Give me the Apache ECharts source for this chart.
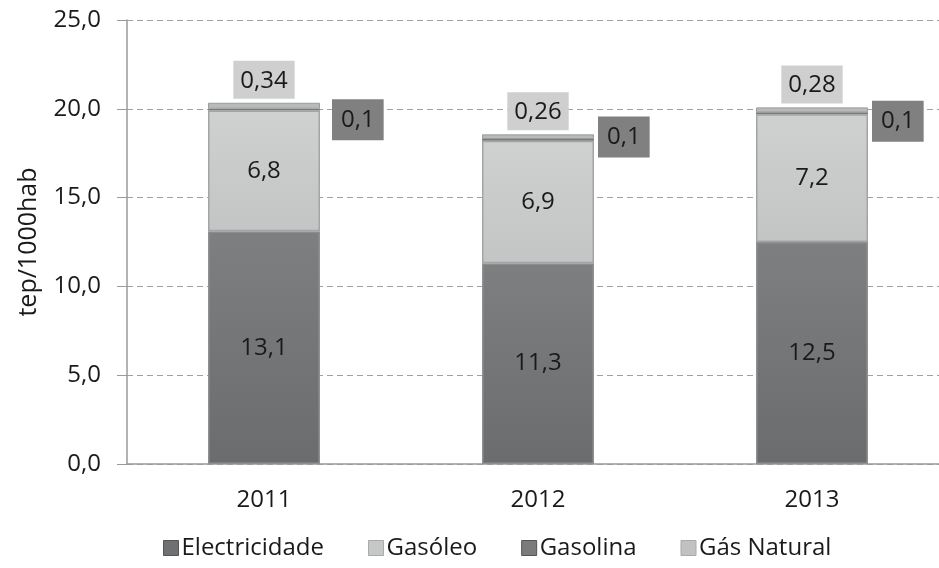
<!DOCTYPE html>
<html>
<head>
<meta charset="utf-8">
<script src="https://cdn.jsdelivr.net/npm/echarts@6/dist/echarts.min.js"></script>
<style>
  html, body { margin: 0; padding: 0; background: #fff; }
  #chart { width: 939px; height: 568px; }
</style>
</head>
<body>
<div id="chart"></div>
<script>
// anos
const years = ['2011', '2012', '2013']
// tep/1000hab por fonte
const electricidade = [13.1, 11.3, 12.5]
const gasoleo = [6.8, 6.9, 7.2]
const gasolina = [0.1, 0.1, 0.1]
const gasNatural = [0.34, 0.26, 0.28]
const yTicks = [0, 5, 10, 15, 20, 25]

// os rótulos da gasolina foram colocados à mão no original
const gasolinaLabelOffset = [[8, 10], [0, -3], [0, 8]]

const FONT = '"Open Sans", "Noto Sans", sans-serif'
const comma = (v, d) => v.toFixed(d).replace('.', ',')

const grad = (top, bottom) => new echarts.graphic.LinearGradient(0, 0, 0, 1, [
  { offset: 0, color: top },
  { offset: 1, color: bottom }
])

const chart = echarts.init(document.getElementById('chart'))

const option = {
  animation: false,
  grid: { left: 127, width: 822, top: 20, bottom: 104, outerBoundsMode: 'none', containLabel: false },
  legend: {
    bottom: 3,
    left: 158,
    itemWidth: 15,
    itemHeight: 15,
    itemGap: 44,
    textStyle: { fontFamily: FONT, fontSize: 24, color: '#1a1a1a', padding: [0, 0, 0, -2] },
    data: [
      { name: 'Electricidade', icon: 'rect', itemStyle: { color: '#6e7071', borderColor: '#555', borderWidth: 1 } },
      { name: 'Gasóleo', icon: 'rect', itemStyle: { color: '#c6c7c7', borderColor: '#aaa', borderWidth: 1 } },
      { name: 'Gasolina', icon: 'rect', itemStyle: { color: '#7a7c7c', borderColor: '#555', borderWidth: 1 } },
      { name: 'Gás Natural', icon: 'rect', itemStyle: { color: '#c0c1c1', borderColor: '#aaa', borderWidth: 1 } }
    ]
  },
  xAxis: {
    type: 'category',
    data: years,
    axisLine: { lineStyle: { color: '#9a9a9a', width: 1.5 } },
    axisTick: { show: false },
    axisLabel: { fontFamily: FONT, fontSize: 24, color: '#1a1a1a', margin: 24 }
  },
  yAxis: {
    type: 'value',
    min: yTicks[0],
    max: yTicks[yTicks.length - 1],
    interval: 5,
    name: 'tep/1000hab',
    nameLocation: 'middle',
    nameGap: 86,
    nameTextStyle: { fontFamily: FONT, fontSize: 25, color: '#1a1a1a' },
    axisLine: { show: true, lineStyle: { color: '#9a9a9a', width: 1.5 } },
    axisTick: { show: true, inside: false, length: 10, lineStyle: { color: '#9a9a9a' } },
    axisLabel: {
      fontFamily: FONT, fontSize: 24, color: '#1a1a1a', margin: 26,
      formatter: v => comma(v, 1)
    },
    splitLine: { lineStyle: { color: '#a0a0a0', type: [6, 4], width: 1 } }
  },
  series: [
    {
      name: 'Electricidade',
      type: 'bar',
      stack: 'total',
      barWidth: 112,
      data: electricidade,
      itemStyle: { color: grad('#7d7f80', '#6a6c6d'), borderColor: '#8f9191', borderWidth: 1.5 },
      label: {
        show: true, position: 'inside',
        fontFamily: FONT, fontSize: 24, color: '#1a1a1a',
        formatter: p => comma(p.value, 1)
      }
    },
    {
      name: 'Gasóleo',
      type: 'bar',
      stack: 'total',
      data: gasoleo,
      itemStyle: { color: grad('#cfd0d0', '#c3c4c4'), borderColor: '#a3a5a5', borderWidth: 1.5 },
      label: {
        show: true, position: 'inside',
        fontFamily: FONT, fontSize: 24, color: '#1a1a1a',
        formatter: p => comma(p.value, 1)
      }
    },
    {
      name: 'Gasolina',
      type: 'bar',
      stack: 'total',
      data: gasolina.map((v, i) => ({ value: v, label: { offset: gasolinaLabelOffset[i] } })),
      itemStyle: { color: '#7a7c7c' },
      label: {
        show: true, position: 'right', distance: 4,
        fontFamily: FONT, fontSize: 24, color: '#1a1a1a',
        backgroundColor: '#808080',
        padding: [9, 9, 8, 9],
        formatter: p => comma(p.value, 1)
      }
    },
    {
      name: 'Gás Natural',
      type: 'bar',
      stack: 'total',
      data: gasNatural,
      itemStyle: { color: '#b9baba', borderColor: '#999b9b', borderWidth: 1 },
      label: {
        show: true, position: 'top', distance: 4,
        fontFamily: FONT, fontSize: 24, color: '#1a1a1a',
        backgroundColor: '#cfcfcf',
        padding: [8, 7, 6, 7],
        formatter: p => comma(p.value, 2)
      }
    }
  ]
}

chart.setOption(option)
</script>
</body>
</html>
